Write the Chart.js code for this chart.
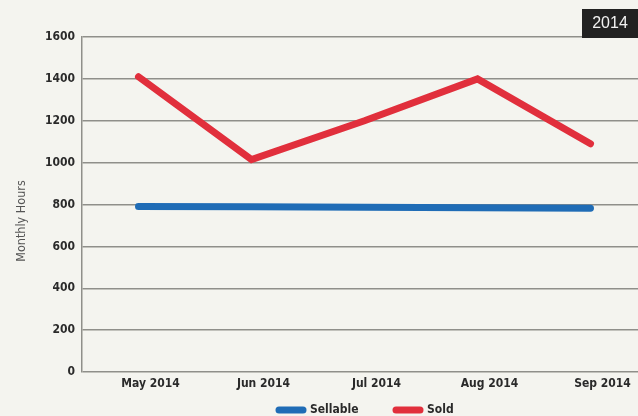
<!DOCTYPE html>
<html>
<head>
<meta charset="utf-8">
<script src="https://cdn.jsdelivr.net/npm/chart.js@4/dist/chart.umd.min.js"></script>
<style>
  html, body { margin: 0; padding: 0; background: #f4f4ef; }
  #wrap { width: 638px; height: 416px; position: relative; overflow: hidden; }
  #lineChart { position: absolute; left: 0; top: 0; }
</style>
</head>
<body>
<div id="wrap"><canvas id="lineChart" width="647" height="416"></canvas></div>
<script>
// monthly hours, 2014
var months = ["May 2014", "Jun 2014", "Jul 2014", "Aug 2014", "Sep 2014"];
var sellableHours = [790, 789, 787, 785, 782];
var soldHours = [1410, 1015, 1200, 1400, 1090];
var yTicks = [0, 200, 400, 600, 800, 1000, 1200, 1400, 1600];
var yTitle = "Monthly Hours";
var yearTag = "2014";

var narrow = "'DejaVu Sans Condensed', 'Liberation Sans Narrow', 'Liberation Sans', sans-serif";
var tickFont = { family: narrow, size: 12, weight: "bold" };

//Dark year tag in the top right corner + rotated axis title
var decorPlugin = {
	id: 'decor',
	afterDraw: function(chart) {
		var ctx = chart.ctx;
		ctx.save();
		ctx.fillStyle = "#222222";
		ctx.fillRect(582, 9, 60, 29);
		ctx.fillStyle = "#f2f2f2";
		ctx.font = "16px 'Liberation Sans', Arial, sans-serif";
		ctx.textAlign = "center";
		ctx.textBaseline = "middle";
		ctx.fillText(yearTag, 610, 24);

		ctx.translate(22, 221);
		ctx.rotate(-Math.PI / 2);
		ctx.fillStyle = "#555555";
		ctx.font = "12.5px " + narrow;
		ctx.fillText(yTitle, 0, 0);
		ctx.restore();
	}
};

//Legend under the axis: rounded bar + series name
var barLegendPlugin = {
	id: 'barLegend',
	afterDraw: function(chart) {
		var ctx = chart.ctx;
		var startX = [276, 393];
		var y = 410;
		ctx.save();
		ctx.font = "bold 12px " + narrow;
		ctx.textBaseline = "middle";
		ctx.textAlign = "left";
		chart.data.datasets.forEach(function(ds, i) {
			var x = startX[i];
			ctx.strokeStyle = ds.borderColor;
			ctx.lineWidth = 7;
			ctx.lineCap = 'round';
			ctx.beginPath();
			ctx.moveTo(x + 3, y);
			ctx.lineTo(x + 27, y);
			ctx.stroke();
			ctx.fillStyle = "#2a2a2a";
			ctx.fillText(ds.label, x + 34, y);
		});
		ctx.restore();
	}
};

var lineChart = document.getElementById("lineChart");
var myLineChart = new Chart(lineChart, {
	type: 'line',
	data: {
		labels: months,
		datasets: [
			//Blue line
			{
			label: "Sellable",
			data: sellableHours,
			fill: false,
			tension: 0,
			borderColor: "#1f6cb6",
			backgroundColor: "#1f6cb6",
			borderWidth: 7,
			borderCapStyle: 'round',
			borderJoinStyle: 'miter',
			pointRadius: 0
			},
			//Red line
			{
			label: "Sold",
			data: soldHours,
			fill: false,
			tension: 0,
			borderColor: "#e12f3c",
			backgroundColor: "#e12f3c",
			borderWidth: 7,
			borderCapStyle: 'round',
			borderJoinStyle: 'miter',
			pointRadius: 0
			}
		]
	},
	options: {
		responsive: false,
		animation: false,
		layout: { padding: { top: 37, right: 0, left: 0, bottom: 20 } },
		plugins: {
			legend: { display: false },
			tooltip: { enabled: false }
		},
		scales: {
			x: {
				offset: true,
				afterFit: function(axis) { axis.height = 24; },
				grid: { display: false, drawTicks: false },
				border: { display: false },
				ticks: { color: "#2a2a2a", font: tickFont, labelOffset: 12, padding: 5, maxRotation: 0 }
			},
			y: {
				min: 0,
				max: 1600,
				afterBuildTicks: function(axis) {
					axis.ticks = yTicks.map(function(v) { return { value: v }; });
				},
				afterFit: function(axis) { axis.width = 82; },
				grid: { color: "#8f8f8a", lineWidth: 1.5, drawTicks: false },
				border: { display: true, color: "#8f8f8a", width: 1.5 },
				ticks: {
					color: "#2a2a2a",
					font: tickFont,
					padding: 7,
					callback: function(v) { return String(v); }
				}
			}
		}
	},
	plugins: [decorPlugin, barLegendPlugin]
});
</script>
</body>
</html>
